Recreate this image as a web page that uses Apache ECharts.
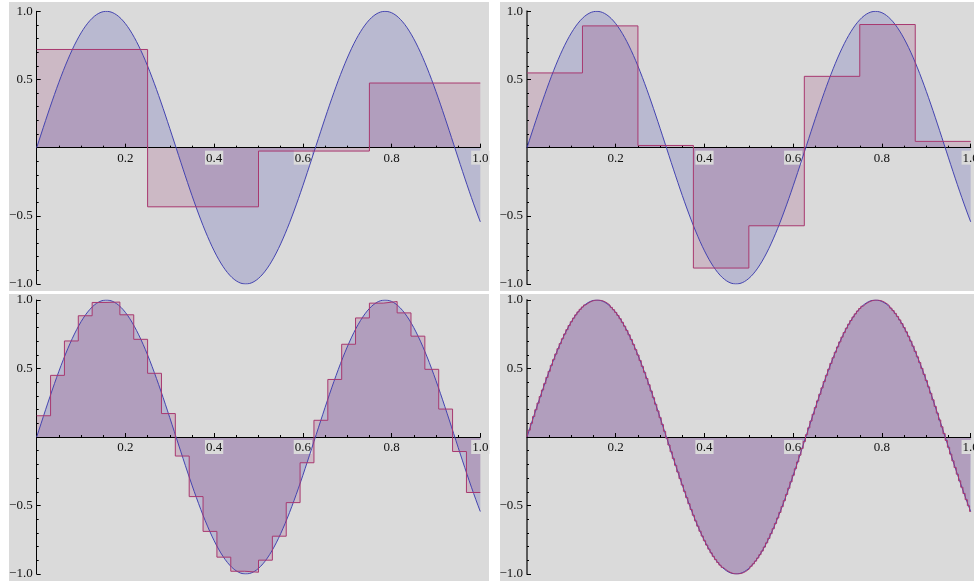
<!DOCTYPE html>
<html>
<head>
<meta charset="utf-8">
<script src="https://cdn.jsdelivr.net/npm/echarts@6/dist/echarts.min.js"></script>
<style>
  html, body { margin: 0; padding: 0; background: #ffffff; }
  #chart { width: 974px; height: 581px; }
</style>
</head>
<body>
<div id="chart"></div>
<script>
// sin(10x) sampled at x = 0.00, 0.01, ..., 1.00
const curveY = [
  0.0000, 0.0998, 0.1987, 0.2955, 0.3894, 0.4794, 0.5646, 0.6442, 0.7174, 0.7833,
  0.8415, 0.8912, 0.9320, 0.9636, 0.9854, 0.9975, 0.9996, 0.9917, 0.9738, 0.9463,
  0.9093, 0.8632, 0.8085, 0.7457, 0.6755, 0.5985, 0.5155, 0.4274, 0.3350, 0.2392,
  0.1411, 0.0416, -0.0584, -0.1577, -0.2555, -0.3508, -0.4425, -0.5298, -0.6119, -0.6878,
  -0.7568, -0.8183, -0.8716, -0.9162, -0.9516, -0.9775, -0.9937, -0.9999, -0.9962, -0.9825,
  -0.9589, -0.9258, -0.8835, -0.8323, -0.7728, -0.7055, -0.6313, -0.5507, -0.4646, -0.3739,
  -0.2794, -0.1822, -0.0831, 0.0168, 0.1165, 0.2151, 0.3115, 0.4048, 0.4941, 0.5784,
  0.6570, 0.7290, 0.7937, 0.8504, 0.8987, 0.9380, 0.9679, 0.9882, 0.9985, 0.9989,
  0.9894, 0.9699, 0.9407, 0.9022, 0.8546, 0.7985, 0.7344, 0.6630, 0.5849, 0.5010,
  0.4121, 0.3191, 0.2229, 0.1245, 0.0248, -0.0752, -0.1743, -0.2718, -0.3665, -0.4575,
  -0.5440
];
// sin(10x) at the midpoints x = 0.005, 0.015, ..., 0.995
const midY = [
  0.0500, 0.1494, 0.2474, 0.3429, 0.4350, 0.5227, 0.6052, 0.6816, 0.7513, 0.8134,
  0.8674, 0.9128, 0.9490, 0.9757, 0.9927, 0.9998, 0.9969, 0.9840, 0.9613, 0.9290,
  0.8874, 0.8369, 0.7781, 0.7115, 0.6378, 0.5577, 0.4720, 0.3817, 0.2875, 0.1904,
  0.0915, -0.0084, -0.1082, -0.2069, -0.3035, -0.3971, -0.4868, -0.5716, -0.6506, -0.7232,
  -0.7886, -0.8460, -0.8950, -0.9351, -0.9658, -0.9869, -0.9981, -0.9993, -0.9906, -0.9719,
  -0.9435, -0.9058, -0.8589, -0.8035, -0.7401, -0.6692, -0.5917, -0.5083, -0.4198, -0.3271,
  -0.2311, -0.1328, -0.0332, 0.0668, 0.1660, 0.2637, 0.3586, 0.4500, 0.5370, 0.6185,
  0.6938, 0.7623, 0.8231, 0.8757, 0.9195, 0.9542, 0.9793, 0.9946, 1.0000, 0.9954,
  0.9809, 0.9565, 0.9226, 0.8795, 0.8276, 0.7674, 0.6996, 0.6247, 0.5437, 0.4572,
  0.3661, 0.2713, 0.1739, 0.0747, -0.0252, -0.1249, -0.2233, -0.3195, -0.4125, -0.5014
];
const sampleStep = 0.01;

// Step heights: mean of the curve over equal subintervals of [0, 1]
const steps4 = [0.720, -0.434, -0.025, 0.474];
const steps8 = [0.548, 0.893, 0.016, -0.883, -0.573, 0.523, 0.903, 0.046];
const steps32 = [
  0.155, 0.450, 0.701, 0.885, 0.982, 0.985, 0.892, 0.713,
  0.465, 0.171, -0.139, -0.435, -0.689, -0.877, -0.980, -0.987,
  -0.899, -0.724, -0.479, -0.188, 0.122, 0.420, 0.677, 0.869,
  0.977, 0.989, 0.906, 0.736, 0.494, 0.204, -0.106, -0.405
];

const xTickValues = [0.2, 0.4, 0.6, 0.8, 1.0];
const yTickValues = [-1.0, -0.5, 0.5, 1.0];

const BG = '#dadada';
const BLUE = '#4444b0';
const BLUE_FILL = 'rgba(61,61,170,0.21)';
const RED = '#a8386f';
const RED_FILL = 'rgba(153,61,116,0.21)';
const SERIF = '"Liberation Serif", "DejaVu Serif", serif';

// all samples in x order (0, 0.005, 0.01, ...)
const fineData = [];
curveY.forEach((y, i) => {
  fineData.push([i * sampleStep, y]);
  if (i < midY.length) fineData.push([(i + 0.5) * sampleStep, midY[i]]);
});

function stepData(vals) {
  const n = vals.length;
  const d = vals.map((v, i) => [i / n, v]);
  d.push([1, vals[n - 1]]);
  return d;
}

const panels = [
  { left: 36.7, top: 11.3, width: 443.6, height: 272.7, steps: stepData(steps4),  mode: 'end',    axisColor: '#000',    axisWidth: 1 },
  { left: 527,  top: 11.3, width: 443.7, height: 272.7, steps: stepData(steps8),  mode: 'end',    axisColor: '#5a5a5a', axisWidth: 2 },
  { left: 36.7, top: 300,  width: 443.6, height: 274,   steps: stepData(steps32), mode: 'end',    axisColor: '#000',    axisWidth: 1 },
  { left: 527,  top: 300,  width: 443.7, height: 274,   steps: fineData,          mode: 'middle', axisColor: '#5a5a5a', axisWidth: 2 }
];

const grid = [], xAxis = [], yAxis = [], series = [];
panels.forEach((p, k) => {
  grid.push({ left: p.left, top: p.top, width: p.width, height: p.height, outerBoundsMode: 'none', containLabel: false });
  xAxis.push({
    gridIndex: k, type: 'value', min: 0, max: 1, interval: 0.2, z: 3,
    position: 'bottom', offset: -p.height / 2,
    axisLine: { show: true, onZero: false, lineStyle: { color: '#000', width: 1 } },
    axisTick: { show: true, inside: true, length: 4, lineStyle: { color: '#000', width: 1 } },
    minorTick: { show: true, splitNumber: 4, length: 2, lineStyle: { color: '#000', width: 1 } },
    splitLine: { show: false }, minorSplitLine: { show: false },
    axisLabel: {
      showMinLabel: false, margin: 3,
      formatter: v => (xTickValues.some(t => Math.abs(t - v) < 1e-9) ? v.toFixed(1) : ''),
      fontFamily: SERIF, fontSize: 13, color: '#111',
      backgroundColor: BG, padding: [1, 1, 0, 1]
    }
  });
  yAxis.push({
    gridIndex: k, type: 'value', min: -1, max: 1, interval: 0.5, z: 3,
    axisLine: { show: true, onZero: false, lineStyle: { color: p.axisColor, width: p.axisWidth } },
    axisTick: { show: true, inside: true, length: 4, lineStyle: { color: '#000', width: 1 } },
    minorTick: { show: true, splitNumber: 5, length: 2, lineStyle: { color: '#000', width: 1 } },
    splitLine: { show: false }, minorSplitLine: { show: false },
    axisLabel: {
      margin: 4,
      formatter: v => {
        const t = yTickValues.find(t => Math.abs(t - v) < 1e-9);
        if (t === undefined) return '';
        return (t < 0 ? '\u2212' : '') + Math.abs(t).toFixed(1);
      },
      fontFamily: SERIF, fontSize: 13, color: '#111'
    }
  });
  // shaded areas under the curve and under the steps
  series.push({
    type: 'line', xAxisIndex: k, yAxisIndex: k, data: fineData, smooth: false,
    showSymbol: false, lineStyle: { width: 0 }, areaStyle: { color: BLUE_FILL, opacity: 1, origin: 0 }, z: 1, silent: true
  });
  series.push({
    type: 'line', xAxisIndex: k, yAxisIndex: k, data: p.steps, step: p.mode,
    showSymbol: false, lineStyle: { width: 0 }, areaStyle: { color: RED_FILL, opacity: 1, origin: 0 }, z: 1, silent: true
  });
  // outlines drawn above the axis labels
  series.push({
    type: 'line', xAxisIndex: k, yAxisIndex: k, data: fineData, smooth: false,
    showSymbol: false, lineStyle: { color: BLUE, width: 1 }, z: 5, silent: true
  });
  series.push({
    type: 'line', xAxisIndex: k, yAxisIndex: k, data: p.steps, step: p.mode,
    showSymbol: false, lineStyle: { color: RED, width: 1 }, z: 6, silent: true
  });
});

// gray panel backgrounds separated by white gutters
const graphic = [
  { type: 'rect', shape: { x: 9, y: 2, width: 480, height: 289 } },
  { type: 'rect', shape: { x: 500, y: 2, width: 474, height: 289 } },
  { type: 'rect', shape: { x: 9, y: 294, width: 480, height: 287 } },
  { type: 'rect', shape: { x: 500, y: 294, width: 474, height: 287 } }
].map(r => Object.assign(r, { style: { fill: BG }, z: -10, silent: true }));

const chart = echarts.init(document.getElementById('chart'), null, { renderer: 'canvas' });
chart.setOption({
  animation: false,
  backgroundColor: '#ffffff',
  graphic: graphic,
  grid: grid,
  xAxis: xAxis,
  yAxis: yAxis,
  series: series
});
</script>
</body>
</html>
